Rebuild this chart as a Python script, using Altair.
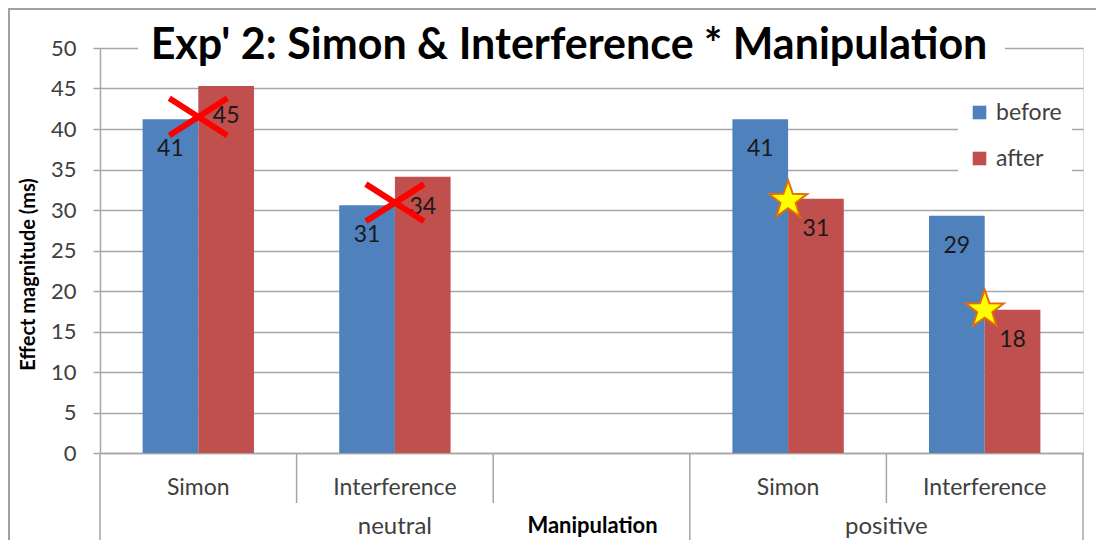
import math
import altair as alt
import pandas as pd

# ---- data ----
slots = ["neutral Simon", "neutral Interference", "gap", "positive Simon", "positive Interference"]
slot_labels = ["Simon", "Interference", "", "Simon", "Interference"]
manipulation = ["neutral", "neutral", "positive", "positive"]
task = ["Simon", "Interference", "Simon", "Interference"]
before = [41.2, 30.6, 41.2, 29.3]
after = [45.3, 34.1, 31.4, 17.7]
marker_kind = ["x", "x", "star", "star"]
marker_y = [41.5, 30.9, 31.2, 17.7]
phases = ["before", "after"]
title_text = "Exp' 2: Simon & Interference * Manipulation"
x_title = "Manipulation"
y_title = "Effect magnitude (ms)"
y_ticks = [0, 5, 10, 15, 20, 25, 30, 35, 40, 45, 50]

BLUE = "#4F81BD"
RED = "#C0504D"
GRID = "#A6A6A6"
FONT = "Lato"
W, H = 983, 405

rows = []
for m, t, b, a in zip(manipulation, task, before, after):
    rows.append({"slot": f"{m} {t}", "phase": "before", "value": b})
    rows.append({"slot": f"{m} {t}", "phase": "after", "value": a})
bars_df = pd.DataFrame(rows)

markers_df = pd.DataFrame({
    "slot": [f"{m} {t}" for m, t in zip(manipulation, task)],
    "kind": marker_kind,
    "my": marker_y,
})
slot_df = pd.DataFrame({"slot": slots, "label": slot_labels})
one = pd.DataFrame({"t": [title_text]})

x_scale = alt.Scale(domain=slots, paddingInner=0, paddingOuter=0)
x_enc = alt.X("slot:N", scale=x_scale,
              axis=alt.Axis(labels=False, ticks=False, domain=True, domainColor=GRID,
                            domainWidth=1.5, grid=False, title=x_title,
                            titleX=492, titleY=72, titleFont=FONT, titleFontSize=22,
                            titleFontWeight="bold", titleColor="#000000",
                            titleBaseline="middle", titleAlign="center"))
y_scale = alt.Scale(domain=[0, 50], nice=False)
y_enc = alt.Y("value:Q", scale=y_scale,
              axis=alt.Axis(values=y_ticks, grid=True, gridColor=GRID, gridWidth=1.5,
                            tickSize=7, tickColor=GRID, tickWidth=1.5,
                            domainColor=GRID, domainWidth=1.5,
                            labelFont=FONT, labelFontSize=22, labelColor="#404040",
                            labelPadding=17, title=y_title, titleFont=FONT,
                            titleFontSize=20, titleFontWeight="bold", titleColor="#000000",
                            titleX=-72, titleY=226, titleAngle=270,
                            titleBaseline="middle", titleAlign="center"))
off_scale = alt.Scale(domain=phases, paddingInner=0, paddingOuter=0.765)

border = alt.Chart(one).mark_rect(fill=None, stroke="#A0A0A0", strokeWidth=2).encode(
    x=alt.value(-91), x2=alt.value(W + 40), y=alt.value(-39), y2=alt.value(H + 150))

title_bg = alt.Chart(one).mark_rect(fill="white").encode(
    x=alt.value(38), x2=alt.value(905), y=alt.value(-20), y2=alt.value(18))
title_mark = alt.Chart(one).mark_text(font=FONT, fontSize=43, fontWeight="bold",
                                      color="#000000", baseline="middle", align="center").encode(
    text="t:N", x=alt.value(469), y=alt.value(-2))

bars = alt.Chart(bars_df).mark_bar().encode(
    x=x_enc,
    xOffset=alt.XOffset("phase:N", scale=off_scale),
    y=y_enc,
    color=alt.Color("phase:N", scale=alt.Scale(domain=phases, range=[BLUE, RED]),
                    legend=alt.Legend(title=None, orient="none", legendX=858, legendY=43,
                                      fillColor="white", padding=10, symbolType="square",
                                      symbolSize=185, symbolStrokeWidth=0,
                                      labelFont=FONT, labelFontSize=23, labelColor="#404040",
                                      rowPadding=22, labelOffset=5)),
)

labels = alt.Chart(bars_df).mark_text(dy=30, fontSize=23, font=FONT, color="#1a1a1a",
                                      baseline="middle").encode(
    x=alt.X("slot:N"), xOffset=alt.XOffset("phase:N"), y=alt.Y("value:Q"),
    text=alt.Text("value:Q", format=".0f"))

x_path = "M-1,-0.64L1,0.64M-1,0.64L1,-0.64"
pts = []
for i in range(10):
    r = 1.0 if i % 2 == 0 else 0.4
    ang = -math.pi / 2 + i * math.pi / 5
    pts.append(f"{r*math.cos(ang):.3f},{r*math.sin(ang):.3f}")
star_path = "M" + "L".join(pts) + "Z"

xmarks = alt.Chart(markers_df).transform_filter("datum.kind == 'x'").mark_point(
    shape=x_path, size=3364, filled=False, stroke="#FF0000", strokeWidth=6, opacity=1).encode(
    x=alt.X("slot:N"), y=alt.Y("my:Q"))
stars = alt.Chart(markers_df).transform_filter("datum.kind == 'star'").mark_point(
    shape=star_path, size=1600, filled=True, fill="#FFFF00", stroke="#E46C0A",
    strokeWidth=2, opacity=1).encode(
    x=alt.X("slot:N"), y=alt.Y("my:Q"))

short_sep = alt.Chart(slot_df).transform_filter(
    alt.FieldOneOfPredicate(field="slot", oneOf=[slots[1], slots[2], slots[4]])).mark_rule(
    color=GRID, strokeWidth=1.5).encode(
    x=alt.X("slot:N", bandPosition=0), y=alt.value(H), y2=alt.value(H + 50))
full_sep = alt.Chart(slot_df).transform_filter(
    alt.FieldOneOfPredicate(field="slot", oneOf=[slots[0], slots[3]])).mark_rule(
    color=GRID, strokeWidth=1.5).encode(
    x=alt.X("slot:N", bandPosition=0), y=alt.value(H), y2=alt.value(H + 100))
end_sep = alt.Chart(slot_df).transform_filter(
    alt.FieldOneOfPredicate(field="slot", oneOf=[slots[4]])).mark_rule(
    color=GRID, strokeWidth=1.5).encode(
    x=alt.X("slot:N", bandPosition=1), y=alt.value(H), y2=alt.value(H + 100))

inner_text = alt.Chart(slot_df).transform_filter("datum.label != ''").mark_text(
    font=FONT, fontSize=23, color="#404040", baseline="middle").encode(
    x=alt.X("slot:N"), y=alt.value(H + 35), text="label:N")

neutral_text = alt.Chart(pd.DataFrame({"slot": [slots[1]], "g": [manipulation[0]]})).mark_text(
    font=FONT, fontSize=24, color="#404040", baseline="middle").encode(
    x=alt.X("slot:N"), y=alt.value(H + 74), text="g:N")
positive_text = alt.Chart(pd.DataFrame({"slot": [slots[4]], "g": [manipulation[2]]})).mark_text(
    font=FONT, fontSize=24, color="#404040", baseline="middle").encode(
    x=alt.X("slot:N", bandPosition=0), y=alt.value(H + 74), text="g:N")

chart = alt.layer(
    border, bars, labels, xmarks, stars, short_sep, full_sep, end_sep,
    inner_text, neutral_text, positive_text, title_bg, title_mark,
).properties(
    width=W, height=H,
    padding={"left": 92, "top": 40, "right": 13, "bottom": 87},
    autosize=alt.AutoSizeParams(type="none"),
).configure_view(stroke=None).configure(background="white")

chart.save("out.html", embed_options={"renderer": "svg", "actions": False})
